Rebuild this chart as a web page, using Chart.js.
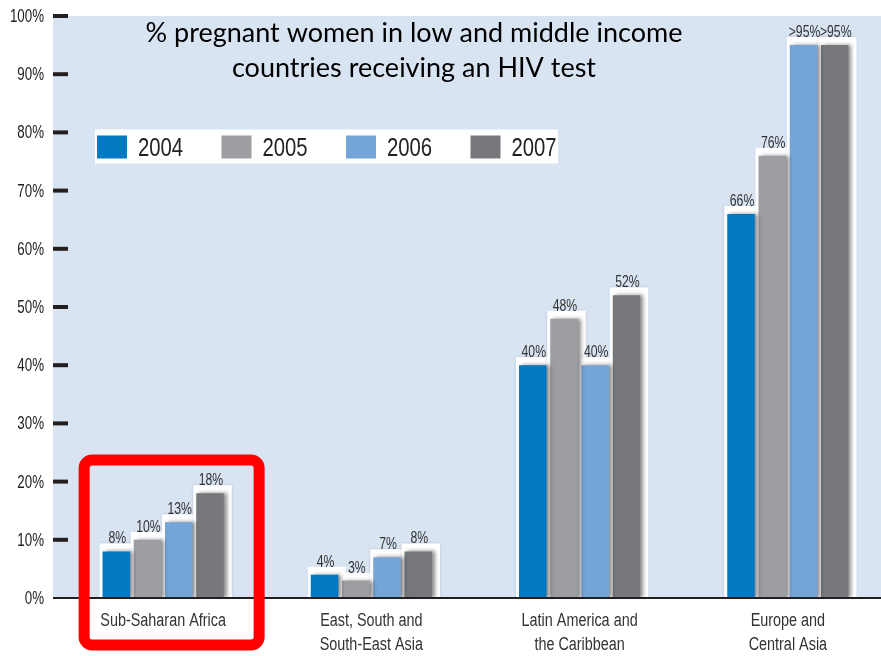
<!DOCTYPE html>
<html>
<head>
<meta charset="utf-8">
<script src="https://cdn.jsdelivr.net/npm/chart.js@4.4.1/dist/chart.umd.min.js"></script>
<style>
  html, body { margin: 0; padding: 0; background: #fff; overflow: hidden; }
  canvas { display: block; }
</style>
</head>
<body>
<canvas id="myChart" width="892" height="656"></canvas>
<script>
// регионы (ось x) и годы (серии)
const regions = [
  ['Sub-Saharan Africa'],
  ['East, South and', 'South-East Asia'],
  ['Latin America and', 'the Caribbean'],
  ['Europe and', 'Central Asia']
];
const years = ['2004', '2005', '2006', '2007'];

// % беременных, прошедших тест на ВИЧ
const values2004 = [8, 4, 40, 66];
const values2005 = [10, 3, 48, 76];
const values2006 = [13, 7, 40, 95];
const values2007 = [18, 8, 52, 95];

// подписи над столбиками
const labels2004 = ['8%', '4%', '40%', '66%'];
const labels2005 = ['10%', '3%', '48%', '76%'];
const labels2006 = ['13%', '7%', '40%', '>95%'];
const labels2007 = ['18%', '8%', '52%', '>95%'];

const yTicks = [0, 10, 20, 30, 40, 50, 60, 70, 80, 90, 100];

const titleLines = ['% pregnant women in low and middle income', 'countries receiving an HIV test'];

const colors = ['#0079c2', '#9d9ea2', '#74a5d9', '#77787c'];
const narrow = "'Liberation Sans', Arial, sans-serif";

const seriesValues = [values2004, values2005, values2006, values2007];
const seriesLabels = [labels2004, labels2005, labels2006, labels2007];

/* текст, сжатый по горизонтали (узкий шрифт) */
function narrowText(ctx, text, x, y, sx) {
  ctx.save();
  ctx.translate(x, y);
  ctx.scale(sx, 1);
  ctx.fillText(text, 0, 0);
  ctx.restore();
}

/* фон графика, белые подложки под столбиками, тень, подписи */
const decorPlugin = {
  id: 'decor',
  beforeDraw(chart) {
    const { ctx, chartArea: a } = chart;
    ctx.save();
    ctx.fillStyle = '#d9e4f3';
    ctx.fillRect(a.left - 6, a.top, chart.width - a.left + 6, a.bottom - a.top);
    ctx.restore();
  },
  beforeDatasetsDraw(chart) {
    const { ctx } = chart;
    ctx.save();
    ctx.fillStyle = '#ffffff';
    ctx.shadowColor = 'rgba(0,0,0,0.12)';
    ctx.shadowBlur = 3;
    chart.data.datasets.forEach((ds, i) => {
      chart.getDatasetMeta(i).data.forEach((bar) => {
        const left = bar.x - bar.width / 2 - 3;
        const right = bar.x + bar.width / 2 + 8;
        ctx.fillRect(left, bar.y - 8, right - left, bar.base - bar.y + 8);
      });
    });
    ctx.restore();
    // тень справа от столбиков
    ctx.save();
    ctx.shadowColor = 'rgba(0,0,0,0.45)';
    ctx.shadowBlur = 4;
    ctx.shadowOffsetX = 3;
    ctx.shadowOffsetY = 0;
  },
  afterDatasetsDraw(chart) {
    chart.ctx.restore();
  },
  afterDraw(chart) {
    const { ctx, chartArea: a } = chart;
    const x = chart.scales.x, y = chart.scales.y;
    ctx.save();

    // базовая линия
    ctx.strokeStyle = '#231f20';
    ctx.lineWidth = 2;
    ctx.beginPath();
    ctx.moveTo(a.left - 6, a.bottom);
    ctx.lineTo(chart.width, a.bottom);
    ctx.stroke();

    // засечки и подписи оси y
    ctx.lineWidth = 4;
    ctx.fillStyle = '#222';
    ctx.font = '18px ' + narrow;
    ctx.textAlign = 'right';
    ctx.textBaseline = 'middle';
    yTicks.forEach((v) => {
      const py = y.getPixelForValue(v);
      narrowText(ctx, v + '%', a.left - 15, py + 1, 0.74);
      if (v === 0) return;
      ctx.beginPath();
      ctx.moveTo(a.left - 6, py);
      ctx.lineTo(a.left + 9, py);
      ctx.stroke();
    });

    // подписи категорий
    ctx.fillStyle = '#333';
    ctx.font = '18px ' + narrow;
    ctx.textAlign = 'center';
    chart.data.labels.forEach((lines, i) => {
      const px = x.getPixelForValue(i);
      lines.forEach((line, k) => {
        narrowText(ctx, line, px, a.bottom + 23 + k * 24, 0.8);
      });
    });

    // подписи значений
    ctx.fillStyle = '#333';
    ctx.font = '17px ' + narrow;
    ctx.textAlign = 'center';
    ctx.textBaseline = 'alphabetic';
    chart.data.datasets.forEach((ds, i) => {
      chart.getDatasetMeta(i).data.forEach((bar, j) => {
        narrowText(ctx, seriesLabels[i][j], bar.x + 1, bar.y - 8, 0.72);
      });
    });

    // заголовок
    ctx.fillStyle = '#000';
    ctx.font = '27px Lato, "Open Sans", sans-serif';
    ctx.textBaseline = 'middle';
    ctx.fillText(titleLines[0], 414, 33);
    ctx.fillText(titleLines[1], 414, 68);

    // легенда
    const lx = a.left + 36, ly = y.getPixelForValue(80.5);
    ctx.fillStyle = '#fff';
    ctx.fillRect(lx, ly, 463, 34);
    ctx.font = '26px ' + narrow;
    ctx.textAlign = 'left';
    chart.data.datasets.forEach((ds, i) => {
      const sx = lx + 2 + i * 124.5;
      ctx.fillStyle = ds.backgroundColor;
      ctx.fillRect(sx, ly + 6, 30, 23);
      ctx.fillStyle = '#222';
      narrowText(ctx, ds.label, sx + 41, ly + 19, 0.78);
    });

    // красная рамка вокруг первой группы
    const cx = x.getPixelForValue(0);
    ctx.strokeStyle = '#ff0000';
    ctx.lineWidth = 11;
    ctx.beginPath();
    ctx.roundRect(cx - 79, a.bottom - 138, 175, 185, 8);
    ctx.stroke();

    ctx.restore();
  }
};

const chart = new Chart(document.getElementById('myChart'), {
  type: 'bar',
  data: {
    labels: regions,
    datasets: years.map((yr, i) => ({
      label: yr,
      data: seriesValues[i],
      backgroundColor: colors[i],
      borderWidth: 0,
      categoryPercentage: 0.6,
      barPercentage: 0.88
    }))
  },
  options: {
    responsive: false,
    animation: false,
    layout: { padding: { top: 16, right: 0, bottom: 0, left: 0 } },
    plugins: {
      legend: { display: false },
      tooltip: { enabled: false }
    },
    scales: {
      x: {
        grid: { display: false, drawTicks: false },
        border: { display: false },
        ticks: { display: false },
        afterFit(scale) { scale.height = 58; }
      },
      y: {
        min: 0,
        max: 100,
        grid: { display: false, drawTicks: false },
        border: { display: false },
        ticks: { display: false, stepSize: 10 },
        afterFit(scale) { scale.width = 59; }
      }
    }
  },
  plugins: [decorPlugin]
});
</script>
</body>
</html>
